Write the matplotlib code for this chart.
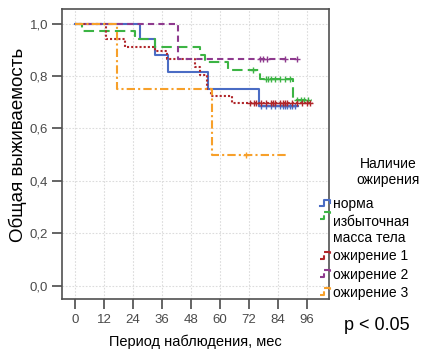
import matplotlib.pyplot as plt
from matplotlib.legend_handler import HandlerBase
from matplotlib.lines import Line2D

plt.rcParams['font.family'] = ['Liberation Sans', 'DejaVu Sans']

# Kaplan-Meier step curves: event times (months) and survival after each step
norm_t = [0, 26.9, 33.1, 38.7, 55.2, 76.4, 92.4]
norm_s = [1.0, 0.940, 0.880, 0.815, 0.751, 0.687, 0.687]
norm_cens = [77, 79, 81, 83, 85, 86, 87, 88, 89, 90, 91]

over_t = [0, 2.8, 24.9, 33.0, 51.8, 53.8, 63.5, 76.6, 90.4, 98.0]
over_s = [1.0, 0.973, 0.940, 0.912, 0.880, 0.855, 0.823, 0.789, 0.709, 0.709]
over_cens = [73.9, 79, 80, 81, 83, 85, 87, 89, 92, 93.5, 95, 96.5]

ob1_t = [0, 12.7, 20.7, 33.1, 38.0, 49.7, 51.8, 54.8, 56.2, 64.9, 98.6]
ob1_s = [1.0, 0.940, 0.912, 0.896, 0.864, 0.836, 0.804, 0.750, 0.722, 0.696, 0.696]
ob1_cens = [72.5, 74, 75, 77, 79, 81, 82, 83, 85, 86, 87, 88, 90, 92, 94, 96, 97.5]

ob2_t = [0, 42.8, 92.0]
ob2_s = [1.0, 0.864, 0.864]
ob2_cens = [76.6, 78, 79.5, 87, 91.8]

ob3_t = [0, 17.3, 56.9, 87.7]
ob3_s = [1.0, 0.75, 0.50, 0.50]
ob3_cens = [71]

labels = ['норма', 'избыточная\nмасса тела', 'ожирение 1', 'ожирение 2', 'ожирение 3']
colors = ['#4a6cc4', '#3cb444', '#b0262a', '#8e3a8e', '#f7a02a']
styles = ['-', (0, (5, 2.5)), (0, (1, 1)), (0, (3, 2)), (0, (4, 1.5, 1, 1.5))]

groups = [(norm_t, norm_s, norm_cens), (over_t, over_s, over_cens),
          (ob1_t, ob1_s, ob1_cens), (ob2_t, ob2_s, ob2_cens),
          (ob3_t, ob3_s, ob3_cens)]


def surv_at(t, times, surv):
    val = surv[0]
    for ti, si in zip(times, surv):
        if ti <= t:
            val = si
    return val


class StepHandler(HandlerBase):
    # small step glyph instead of a straight line, next to the first text line
    def create_artists(self, legend, orig_handle, xdescent, ydescent,
                       width, height, fontsize, trans):
        lift = orig_handle.get_label().count('\n') * fontsize * 1.1
        xs = [0, 0.45 * width, 0.45 * width, width, width]
        ys = [0.15 * height, 0.15 * height, 0.85 * height, 0.85 * height, 0.5 * height]
        ln = Line2D([x - xdescent for x in xs], [y - ydescent + lift for y in ys],
                    color=orig_handle.get_color(), linestyle=orig_handle.get_linestyle(),
                    linewidth=1.5)
        ln.set_transform(trans)
        return [ln]


fig = plt.figure(figsize=(4.38, 3.53), dpi=100)
ax = fig.add_axes([0.1416, 0.153, 0.6094, 0.8215])

handles = []
for (t, s, c), lab, col, ls in zip(groups, labels, colors, styles):
    h, = ax.step(t, s, where='post', color=col, linestyle=ls, linewidth=1.5, label=lab)
    ax.plot(c, [surv_at(x, t, s) for x in c], linestyle='none', marker='+',
            markersize=5, markeredgewidth=1, color=col)
    handles.append(h)

ax.set_xlim(-5.4, 105.2)
ax.set_ylim(-0.051, 1.056)
ax.set_xticks(range(0, 97, 12))
ax.set_yticks([0, 0.2, 0.4, 0.6, 0.8, 1.0])
ax.set_yticklabels(['0,0', '0,2', '0,4', '0,6', '0,8', '1,0'])
ax.grid(True, color='#dcdcdc', linestyle=(0, (1.5, 1.5)), linewidth=0.8)
ax.set_axisbelow(True)
for sp in ax.spines.values():
    sp.set_color('#505050')
    sp.set_linewidth(1.2)
ax.tick_params(axis='both', colors='#4a4a4a', labelsize=9.5, length=7, width=1.2, pad=3)
ax.tick_params(axis='x', pad=4)

ax.set_xlabel('Период наблюдения, мес', fontsize=10.5, labelpad=6)
fig.text(0.041, 1 - 145 / 353, 'Общая выживаемость', fontsize=13.5,
         rotation=90, ha='center', va='center')

fig.text(388 / 438, 1 - 172 / 353, 'Наличие\nожирения', fontsize=10,
         ha='center', va='center', multialignment='center', linespacing=1.2)
leg = fig.legend(handles, labels, handler_map={Line2D: StepHandler()},
                 loc='upper left', bbox_to_anchor=(0.717, 0.458),
                 frameon=False, fontsize=10, handlelength=0.75,
                 handletextpad=0.2, labelspacing=0.3, borderaxespad=0)

fig.text(0.785, 0.077, 'p < 0.05', fontsize=13, va='center', ha='left')

fig.savefig('out.png', dpi=100)
